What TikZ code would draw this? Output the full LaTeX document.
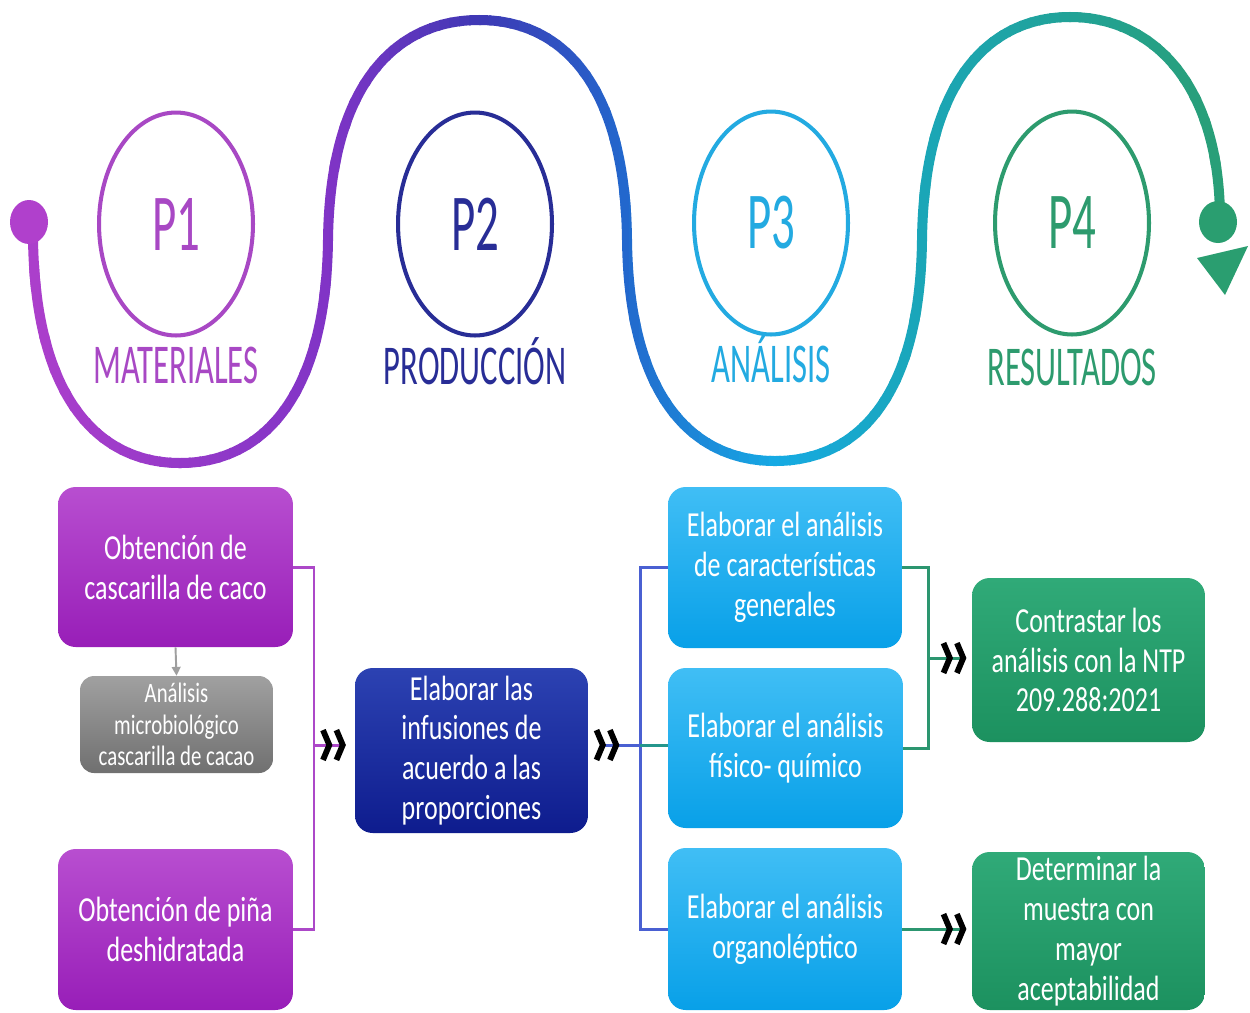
\documentclass[tikz,border=0pt]{standalone}
\usepackage{fontspec}
\setmainfont{Carlito}
\newfontfamily\boxfont[FakeStretch=0.74]{Carlito}
\newfontfamily\titlefont[FakeStretch=0.58]{Carlito}
\usetikzlibrary{arrows.meta,shapes.geometric}

% wave gradient stops
\definecolor{w0}{RGB}{176,64,204}
\definecolor{w1}{RGB}{128,52,198}
\definecolor{w2}{RGB}{62,56,180}
\definecolor{w3}{RGB}{34,104,205}
\definecolor{w4}{RGB}{22,170,228}
\definecolor{w5}{RGB}{26,166,184}
\definecolor{w6}{RGB}{42,158,112}
% phase colours
\definecolor{c1col}{RGB}{168,72,196}
\definecolor{c2col}{RGB}{40,45,150}
\definecolor{c3col}{RGB}{35,170,225}
\definecolor{c4col}{RGB}{45,155,110}
% boxes
\definecolor{purT}{RGB}{184,78,208}
\definecolor{purB}{RGB}{152,30,184}
\definecolor{gryT}{RGB}{160,160,160}
\definecolor{gryB}{RGB}{112,112,112}
\definecolor{navT}{RGB}{44,66,178}
\definecolor{navB}{RGB}{14,28,142}
\definecolor{bluT}{RGB}{64,190,245}
\definecolor{bluB}{RGB}{8,160,232}
\definecolor{grnT}{RGB}{48,170,120}
\definecolor{grnB}{RGB}{28,145,95}
% connectors
\definecolor{plc}{RGB}{172,72,200}
\definecolor{blc}{RGB}{74,96,210}
\definecolor{glc}{RGB}{44,150,112}
\definecolor{tlc}{RGB}{36,150,140}

\newcommand\wmix[4]{\pgfmathsetmacro\wt{(\wx-#3)/(#4-#3)*100}\colorlet{wcol}{#2!\wt!#1}}
\newcommand\wavecol[1]{%
  \pgfmathsetmacro\wx{#1}%
  \ifdim\wx pt<330pt \wmix{w0}{w1}{0}{330}\else
  \ifdim\wx pt<480pt \wmix{w1}{w2}{330}{480}\else
  \ifdim\wx pt<627pt \wmix{w2}{w3}{480}{627}\else
  \ifdim\wx pt<775pt \wmix{w3}{w4}{627}{775}\else
  \ifdim\wx pt<922pt \wmix{w4}{w5}{775}{922}\else
  \wmix{w5}{w6}{922}{1250}\fi\fi\fi\fi\fi}
\newcommand\wavepath{(33,238) .. controls (35,400) and (100,463) .. (180,463)
  .. controls (260,463) and (326,400) .. (328,240)
  .. controls (330,80) and (399,20) .. (479,20)
  .. controls (559,20) and (625,80) .. (627,240)
  .. controls (629,400) and (695,461) .. (775,461)
  .. controls (855,461) and (920,400) .. (922,240)
  .. controls (924,80) and (990,17) .. (1070,17)
  .. controls (1150,17) and (1218,80) .. (1220,215)}

\tikzset{
  dchev/.tip={Straight Barb[color=black,length=3.6pt,width=17pt,line width=3.3pt,sep=0.6pt]
              Straight Barb[color=black,length=3.6pt,width=17pt,line width=3.3pt]},
  dchevr/.tip={Straight Barb[color=black,length=3.6pt,width=17pt,line width=3.3pt,sep=0.6pt,reversed]
              Straight Barb[color=black,length=3.6pt,width=17pt,line width=3.3pt,reversed]},
  phase/.style={ellipse, draw, line width=2.3pt, minimum width=3.08cm, minimum height=4.46cm,
                inner sep=0pt, font=\titlefont\fontsize{46}{46}\selectfont},
  lbl/.style={anchor=base, inner sep=0pt, font=\titlefont\fontsize{32}{32}\selectfont},
  box/.style={rounded corners=10pt, minimum width=4.7cm, minimum height=3.2cm,
              text width=4.6cm, align=flush center, text=white, inner sep=0pt,
              font=\boxfont\fontsize{20}{22.7}\selectfont},
  purbox/.style={box, top color=purT, bottom color=purB},
  navbox/.style={box, top color=navT, bottom color=navB},
  blubox/.style={box, top color=bluT, bottom color=bluB},
  grnbox/.style={box, top color=grnT, bottom color=grnB},
  grybox/.style={box, top color=gryT, bottom color=gryB, minimum width=3.86cm,
                 minimum height=1.94cm, text width=3.8cm, rounded corners=8pt,
                 font=\boxfont\fontsize{16}{17.9}\selectfont},
  pl/.style={draw=plc, line width=1.7pt},
  bl/.style={draw=blc, line width=1.7pt},
  gl/.style={draw=glc, line width=1.7pt},
  tl/.style={draw=tlc, line width=1.7pt},
}

\begin{document}
\begin{tikzpicture}[x=0.02cm,y=-0.02cm]
\useasboundingbox (0,0) rectangle (1250,1012);
\fill[white] (0,0) rectangle (1250,1012);

% ---- gradient wave ----
\foreach \i in {0,...,124}{
  \pgfmathsetmacro\xa{\i*10}
  \wavecol{\xa+5}
  \begin{scope}
    \clip (\xa-1,-20) rectangle (\xa+11,1030);
    \draw[line width=5.7pt, wcol] \wavepath;
  \end{scope}
}
\fill[w0] (29,222) ellipse [x radius=19, y radius=22];
\fill[w6] (1218,222) ellipse [x radius=19, y radius=21];
\fill[w6] (1197,258) -- (1248,246) -- (1225,295) -- cycle;

% ---- phases ----
\node[phase, draw=c1col, text=c1col] (p1) at (176,224) {P1};
\node[phase, draw=c2col, text=c2col] (p2) at (475,224) {P2};
\node[phase, draw=c3col, text=c3col] (p3) at (771,223) {P3};
\node[phase, draw=c4col, text=c4col] (p4) at (1072,223) {P4};
\node[lbl, text=c1col] (l1) at (176,383) {MATERIALES};
\node[lbl, text=c2col] (l2) at (475,384) {PRODUCCIÓN};
\node[lbl, text=c3col] (l3) at (771,382) {ANÁLISIS};
\node[lbl, text=c4col] (l4) at (1072,385) {RESULTADOS};

% ---- boxes ----
\node[purbox] (ob1) at (175.5,567) {Obtención de\\cascarilla de caco};
\node[grybox] (gb) at (176.5,724.5) {Análisis\\microbiológico\\cascarilla de cacao};
\node[purbox, minimum height=3.22cm] (ob2) at (175.5,929.5) {Obtención de piña\\deshidratada};
\node[navbox, minimum width=4.66cm, minimum height=3.3cm] (inf) at (471.5,750.5)
  {Elaborar las\\infusiones de\\acuerdo a las\\proporciones};
\node[blubox, minimum width=4.68cm, minimum height=3.22cm] (an1) at (785,567.5)
  {Elaborar el análisis\\de características\\generales};
\node[blubox] (an2) at (785.5,748) {Elaborar el análisis\\físico- químico};
\node[blubox, minimum width=4.68cm, minimum height=3.24cm] (an3) at (785,929)
  {Elaborar el análisis\\organoléptico};
\node[grnbox, minimum width=4.66cm, minimum height=3.28cm] (res1) at (1088.5,660)
  {Contrastar los\\análisis con la NTP\\209.288:2021};
\node[grnbox, minimum width=4.66cm, minimum height=3.16cm] (res2) at (1088.5,931)
  {Determinar la\\muestra con\\mayor\\aceptabilidad};

% ---- connectors ----
\coordinate (jA) at (314,745);
\coordinate (jB) at (640,745);
\coordinate (jC) at (928,658);

\draw[gray!75, line width=1.1pt, -{Triangle[length=5pt,width=5pt]}] (ob1.south) -- (gb.north);

\draw[pl] (ob1.east) -- (ob1.east -| jA) -- (ob2.east -| jA) -- (ob2.east);
\draw[pl, -{dchev}, shorten >=5pt] (jA) -- (jA -| inf.west);

\draw[bl, {dchevr}-, shorten <=3pt] (inf.east |- jB) -- (jB);
\draw[bl] (an1.west) -- (an1.west -| jB) -- (an3.west -| jB) -- (an3.west);
\draw[tl] (jB) -- (jB -| an2.west);

\draw[gl] (an1.east) -- (an1.east -| jC) -- (an2.east -| jC) -- (an2.east);
\draw[gl, -{dchev}, shorten >=3pt] (jC) -- (jC -| res1.west);
\draw[gl, -{dchev}, shorten >=3pt] (an3.east) -- (an3.east -| res2.west);
\end{tikzpicture}
\end{document}
